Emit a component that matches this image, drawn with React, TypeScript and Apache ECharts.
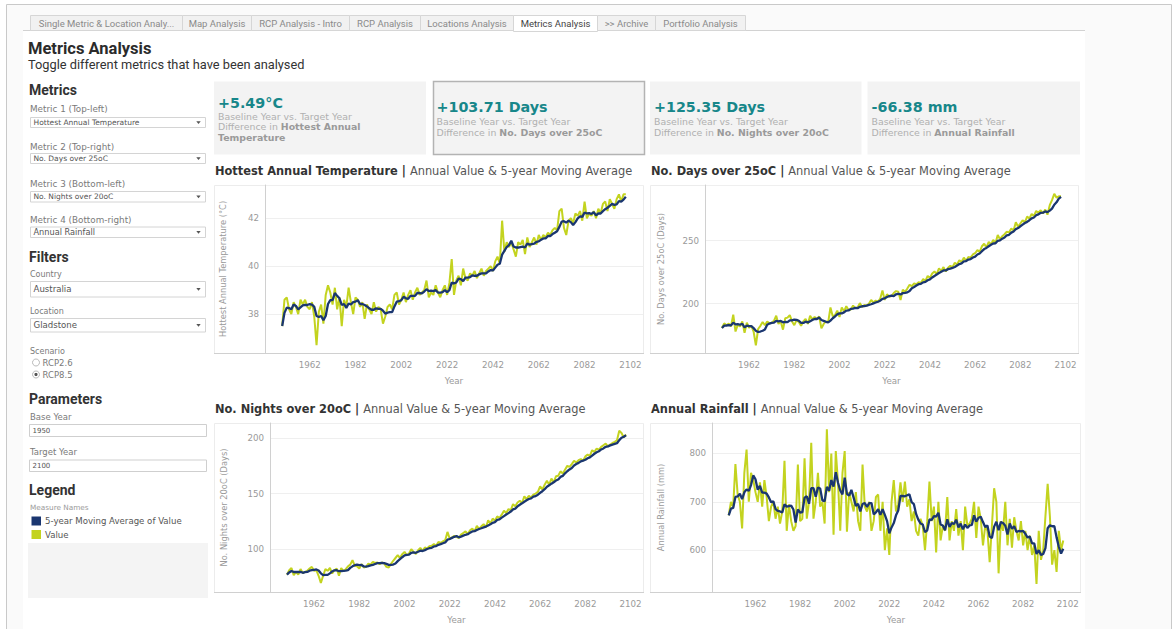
import React, { useEffect, useRef } from 'react';
import * as echarts from 'echarts';

// ---------------- DATA ----------------
const START_YEAR = 1950;
const xTickYears = [1962, 1982, 2002, 2022, 2042, 2062, 2082, 2102];

// Hottest Annual Temperature (°C), 1950-2100
const hottestTemp = [
  37.5, 38.6, 38.7, 38.2, 38.0, 38.5, 38.3, 38.0, 38.6, 38.4,
  38.6, 38.3, 38.2, 38.5, 37.9, 36.7, 38.1, 38.4, 37.6, 38.8,
  39.2, 38.9, 38.4, 39.1, 38.2, 38.7, 37.5, 38.6, 38.3, 39.1,
  38.5, 38.0, 38.7, 38.6, 38.3, 38.5, 37.8, 38.4, 38.2, 38.0,
  38.5, 38.1, 38.3, 38.2, 37.6, 37.9, 38.3, 38.4, 38.2, 38.8,
  38.9, 38.4, 38.6, 38.9, 38.5, 38.8, 39.0, 38.6, 38.9, 39.1,
  38.8, 38.9, 39.0, 39.4, 38.7, 38.9, 38.8, 39.2, 38.9, 38.7,
  39.0, 39.2, 38.8, 39.3, 40.3, 38.8, 39.4, 39.6, 39.2, 39.9,
  39.5, 39.4, 39.7, 39.6, 39.8, 39.5, 39.7, 39.9, 39.6, 39.8,
  39.9, 40.0, 39.8, 40.2, 40.4, 40.1, 41.9, 40.6, 41.0, 40.8,
  41.0, 40.7, 40.4, 41.0, 40.9, 41.1, 40.5, 41.2, 40.8, 41.0,
  41.2, 40.9, 41.3, 41.1, 41.3, 41.2, 41.4, 41.3, 41.5, 41.6,
  41.5, 42.3, 42.4, 41.6, 41.3, 41.9, 42.0, 41.8, 42.2, 42.1,
  42.3, 41.9, 42.7, 42.0, 42.2, 42.1, 42.3, 42.0, 42.4, 42.2,
  42.6, 42.7, 42.3, 42.8, 42.6, 42.4, 42.8, 43.0, 42.7, 43.0,
  43.0,
];

// No. Days over 25oC (Days)
const daysOver25 = [
  180.8, 184.5, 183.0, 184.2, 182.0, 191.3, 178.0, 183.5, 182.0, 186.0,
  177.0, 185.0, 181.0, 182.5, 178.0, 167.0, 180.0, 182.5, 185.5, 183.0,
  186.0, 184.5, 185.0, 186.5, 190.5, 184.0, 186.0, 179.5, 188.5, 189.0,
  191.0, 186.0, 183.0, 187.0, 185.5, 182.5, 186.0, 188.0, 184.0, 190.5,
  187.5, 189.5, 188.0, 190.0, 180.5, 184.0, 186.0, 185.5, 197.0, 190.0,
  191.0, 194.5, 189.5, 197.0, 194.0, 198.0, 195.0, 195.5, 198.5, 196.5,
  197.0, 200.5, 197.5, 199.0, 198.5, 200.0, 203.0, 201.0, 202.5, 201.5,
  204.0, 210.5, 203.0, 207.5, 205.5, 206.0, 208.5, 210.0, 209.5, 203.0,
  211.0, 209.5, 212.0, 215.0, 214.0, 216.0, 215.5, 217.0, 216.5, 219.5,
  218.0, 222.0, 220.5, 224.0, 225.5, 223.5, 228.0, 226.0, 229.0, 225.5,
  228.5, 230.0, 229.0, 232.5, 231.0, 234.5, 233.0, 236.5, 234.0, 237.0,
  236.5, 239.0, 240.0, 242.5, 241.0, 245.5, 247.5, 244.5, 249.0, 247.0,
  250.5, 248.0, 254.5, 251.0, 253.5, 255.0, 257.0, 256.5, 259.5, 258.0,
  264.5, 261.0, 263.5, 266.0, 264.5, 269.0, 267.5, 271.0, 269.5, 273.5,
  272.0, 274.0, 271.5, 274.5, 270.5, 278.0, 282.0, 287.0, 284.0, 285.0,
  285.0,
];

// No. Nights over 20oC (Days)
const nightsOver20 = [
  77.0, 81.0, 83.0, 76.5, 79.5, 77.0, 82.0, 78.5, 79.5, 80.5,
  82.5, 84.0, 80.5, 81.0, 76.0, 69.5, 76.0, 82.0, 80.5, 83.0,
  78.0, 81.0, 82.5, 76.0, 83.0, 80.0, 82.0, 84.5, 86.0, 90.0,
  85.0, 84.5, 82.5, 86.5, 83.5, 84.0, 87.0, 86.0, 88.5, 87.5,
  88.0, 86.5, 88.0, 87.0, 84.0, 83.5, 86.5, 89.5, 92.0, 94.5,
  92.0, 95.5, 97.5, 94.5, 96.0, 100.0, 97.5, 95.5, 99.0, 101.0,
  98.5, 101.5, 100.5, 102.5, 103.0, 104.5, 103.0, 106.5, 105.5, 107.0,
  108.0, 115.5, 109.5, 110.5, 112.0, 111.0, 110.0, 113.0, 114.5, 116.0,
  113.5, 117.0, 118.5, 116.0, 121.0, 118.0, 120.5, 122.5, 119.5, 126.0,
  123.0, 127.5, 125.5, 129.5, 128.0, 131.0, 134.5, 132.5, 136.0, 135.0,
  140.5, 138.5, 142.0, 143.5, 141.5, 147.5, 145.0, 148.0, 146.5, 149.0,
  150.0, 151.5, 156.5, 153.5, 158.0, 161.5, 158.0, 163.5, 160.0, 165.5,
  166.0, 170.0, 168.0, 171.5, 175.0, 174.0, 176.5, 179.5, 178.0, 180.0,
  181.0, 179.5, 183.5, 185.0, 184.0, 189.0, 187.5, 190.5, 189.5, 192.0,
  193.5, 195.0, 192.5, 194.0, 195.5, 196.5, 198.0, 206.5, 204.5, 200.5,
  203.0,
];

// Annual Rainfall (mm)
const annualRainfall = [
  672, 700, 690, 778, 715, 700, 645, 760, 808, 700,
  760, 745, 720, 700, 740, 690, 745, 710, 660, 690,
  700, 665, 690, 655, 680, 785, 640, 695, 660, 640,
  650, 777, 660, 665, 790, 665, 700, 822, 665, 700,
  760, 690, 700, 655, 850, 720, 800, 632, 805, 740,
  640, 760, 805, 638, 720, 700, 680, 720, 660, 640,
  777, 690, 680, 700, 640, 660, 710, 715, 640, 700,
  600, 645, 590, 700, 745, 680, 695, 740, 700, 742,
  690, 705, 660, 680, 640, 630, 665, 650, 600, 660,
  742, 660, 690, 595, 700, 620, 650, 640, 710, 620,
  660, 640, 685, 630, 660, 600, 690, 650, 655, 665,
  700, 625, 690, 665, 610, 650, 640, 575, 650, 728,
  700, 552, 660, 640, 700, 610, 665, 605, 668, 640,
  620, 660, 610, 640, 600, 630, 590, 610, 530, 640,
  580, 600, 670, 737, 670, 570, 600, 555, 640, 600,
  620,
];

// ---------------- HELPERS ----------------
const FONT = "'DejaVu Sans', Verdana, sans-serif";
const HFONT = "Roboto, 'Open Sans', sans-serif";
const VALUE_COLOR = '#c3d31f';
const MA_COLOR = '#1a3670';

const toPairs = (vals: number[]) => vals.map((v, i) => [START_YEAR + i, v]);
// 5-year (trailing) moving average of the value series
const movingAvg = (vals: number[]) =>
  vals.map((_, i) => {
    const s = vals.slice(Math.max(0, i - 4), i + 1);
    return +(s.reduce((a, b) => a + b, 0) / s.length).toFixed(2);
  });

const txt = (x: number, y: number, text: string, size: number, color: string, o: any = {}) => ({
  type: 'text', x, y, z: 20, silent: true,
  style: {
    text, fontSize: size, fontFamily: o.family || FONT, fontWeight: o.weight || 'normal',
    fill: color, align: o.align || 'left', verticalAlign: 'middle',
  },
});
const richTxt = (x: number, y: number, text: string, rich: any) => ({
  type: 'text', x, y, z: 20, silent: true,
  style: { text, rich, verticalAlign: 'middle', align: 'left' },
});
const box = (x: number, y: number, w: number, h: number, fill: string, stroke?: string, lw = 1, z = 1) => ({
  type: 'rect', z, silent: true,
  shape: { x, y, width: w, height: h },
  style: { fill, stroke: stroke || 'none', lineWidth: lw },
});
const hline = (x1: number, x2: number, y: number, color: string, z = 5) => ({
  type: 'line', z, silent: true, shape: { x1, y1: y, x2, y2: y }, style: { stroke: color, lineWidth: 1 },
});

// ---------------- LAYOUT ----------------
const charts = [
  { title: 'Hottest Annual Temperature', yName: 'Hottest Annual Temperature (°C)', data: hottestTemp,
    grid: { left: 265, top: 185, width: 378, height: 168 }, yMin: 36.375, yMax: 43.39, nameGap: 38,
    paneLeft: 214, titleX: 215, titleY: 171 },
  { title: 'No. Days over 25oC', yName: 'No. Days over 25oC (Days)', data: daysOver25,
    grid: { left: 705, top: 185, width: 373, height: 168 }, yMin: 161, yMax: 294, nameGap: 40,
    paneLeft: 650, titleX: 651, titleY: 171 },
  { title: 'No. Nights over 20oC', yName: 'No. Nights over 20oC (Days)', data: nightsOver20,
    grid: { left: 270, top: 423, width: 373, height: 169 }, yMin: 61.4, yMax: 213.5, nameGap: 42,
    paneLeft: 214, titleX: 215, titleY: 409 },
  { title: 'Annual Rainfall', yName: 'Annual Rainfall (mm)', data: annualRainfall,
    grid: { left: 712, top: 423, width: 368, height: 169 }, yMin: 513.4, yMax: 863, nameGap: 47,
    paneLeft: 650, titleX: 651, titleY: 409 },
];

const tabs = [
  { label: 'Single Metric & Location Analy...', x0: 30, x1: 182 },
  { label: 'Map Analysis', x0: 182, x1: 251 },
  { label: 'RCP Analysis - Intro', x0: 251, x1: 349 },
  { label: 'RCP Analysis', x0: 349, x1: 420 },
  { label: 'Locations Analysis', x0: 420, x1: 513 },
  { label: 'Metrics Analysis', x0: 513, x1: 597, active: true },
  { label: '>> Archive', x0: 597, x1: 655 },
  { label: 'Portfolio Analysis', x0: 655, x1: 745 },
];

const kpis = [
  { value: '+5.49°C', metric: ['Hottest Annual', 'Temperature'], x: 214, w: 212, tx: 218, vy: 102.5, l1: 116, l2: 126.5, l3: 137.5 },
  { value: '+103.71 Days', metric: ['No. Days over 25oC'], x: 433.5, w: 211, tx: 436.5, vy: 106.5, l1: 121, l2: 132, selected: true },
  { value: '+125.35 Days', metric: ['No. Nights over 20oC'], x: 650, w: 211.5, tx: 654, vy: 106.5, l1: 121, l2: 132 },
  { value: '-66.38 mm', metric: ['Annual Rainfall'], x: 867.5, w: 212.5, tx: 871.5, vy: 106.5, l1: 121, l2: 132 },
];

function buildGraphics() {
  const g: any[] = [];
  // page frame & panels
  g.push(box(6.5, 4.5, 1165, 700, '#fafafa', '#c9c9c9', 1, -20));
  g.push(box(23, 31, 1062, 640, '#ffffff', undefined, 1, -19));
  g.push(hline(23, 1085, 30.5, '#d2d2d2', 2));
  // tabs
  tabs.forEach((t) => {
    g.push(box(t.x0 + 0.5, 15.5, t.x1 - t.x0, t.active ? 16 : 15, t.active ? '#ffffff' : '#f1f1f1', '#d6d6d6', 1, 3));
    if (t.active) g.push(hline(t.x0 + 1, t.x1, 30.5, '#ffffff', 4));
    g.push(txt((t.x0 + t.x1) / 2 + 0.5, 23.5, t.label, 9.5, t.active ? '#444444' : '#8a8a8a', { family: HFONT, align: 'center' }));
  });
  // header
  g.push(txt(28, 48, 'Metrics Analysis', 16.5, '#2b2b2b', { family: HFONT, weight: 'bold' }));
  g.push(txt(28, 64.5, 'Toggle different metrics that have been analysed', 12.8, '#333333', { family: HFONT }));

  // left panel
  const label = (y: number, t: string, s = 8.8) => g.push(txt(30, y, t, s, '#7a7a7a'));
  const head = (y: number, t: string) => g.push(txt(29, y, t, 14, '#333333', { family: HFONT, weight: 'bold' }));
  const dropdown = (y: number, h: number, t: string, s: number) => {
    g.push(box(30.5, y + 0.5, 175, h, '#ffffff', '#d4d4d4', 1, 2));
    g.push(txt(33.5, y + h / 2 + 0.5, t, s, '#555555'));
    const cx = 198.5, cy = y + h / 2 + 0.5;
    g.push({ type: 'polygon', z: 5, silent: true, shape: { points: [[cx - 2.2, cy - 1.2], [cx + 2.2, cy - 1.2], [cx, cy + 1.5]] }, style: { fill: '#555555' } });
  };
  head(90, 'Metrics');
  label(109, 'Metric 1 (Top-left)');
  dropdown(117, 10, 'Hottest Annual Temperature', 7.5);
  label(146.5, 'Metric 2 (Top-right)');
  dropdown(153, 10, 'No. Days over 25oC', 7.5);
  label(184, 'Metric 3 (Bottom-left)');
  dropdown(191, 10.5, 'No. Nights over 20oC', 7.5);
  label(220, 'Metric 4 (Bottom-right)');
  dropdown(226.5, 10.5, 'Annual Rainfall', 8.2);
  head(256.5, 'Filters');
  label(274, 'Country', 8);
  dropdown(281, 15.5, 'Australia', 8.6);
  label(311.5, 'Location', 8);
  dropdown(318, 13.5, 'Gladstone', 8.6);
  label(351.5, 'Scenario', 8);
  g.push({ type: 'circle', z: 5, silent: true, shape: { cx: 36, cy: 362.5, r: 3.5 }, style: { fill: '#ffffff', stroke: '#a8a8a8', lineWidth: 0.8 } });
  g.push(txt(42.5, 362.5, 'RCP2.6', 8.5, '#7a7a7a'));
  g.push({ type: 'circle', z: 5, silent: true, shape: { cx: 36, cy: 374.5, r: 3.5 }, style: { fill: '#ffffff', stroke: '#a8a8a8', lineWidth: 0.8 } });
  g.push({ type: 'circle', z: 6, silent: true, shape: { cx: 36, cy: 374.5, r: 1.6 }, style: { fill: '#555555' } });
  g.push(txt(42.5, 374.5, 'RCP8.5', 8.5, '#7a7a7a'));
  head(398.5, 'Parameters');
  label(416.5, 'Base Year', 8.5);
  g.push(box(29.5, 424.5, 177, 12, '#ffffff', '#cfcfcf', 1, 2));
  g.push(txt(32.5, 430.5, '1950', 7, '#555555'));
  label(452, 'Target Year', 8.5);
  g.push(box(29.5, 460, 177, 11.5, '#ffffff', '#cfcfcf', 1, 2));
  g.push(txt(32.5, 466, '2100', 7, '#555555'));
  head(490, 'Legend');
  g.push(txt(30, 507.5, 'Measure Names', 7.3, '#9a9a9a'));
  g.push(box(31.5, 516.5, 9.5, 9, MA_COLOR, undefined, 1, 5));
  g.push(txt(45, 521, '5-year Moving Average of Value', 8.6, '#555555'));
  g.push(box(31.5, 530, 9.5, 9, VALUE_COLOR, undefined, 1, 5));
  g.push(txt(45, 534.5, 'Value', 8.6, '#555555'));
  g.push(box(28, 543, 180, 55, '#f4f4f4', undefined, 1, 1));

  // KPI cards
  kpis.forEach((k) => {
    g.push(box(k.x, 81.5, k.w, 73, '#f3f3f3', k.selected ? '#b3b3b3' : undefined, 1.5, 1));
    g.push(txt(k.tx, k.vy, k.value, 14.3, '#17878a', { weight: 'bold' }));
    g.push(txt(k.tx, k.l1, 'Baseline Year vs. Target Year', 9.4, '#b0b0b0'));
    g.push(richTxt(k.tx, k.l2, `{n|Difference in }{b|${k.metric[0]}}`, {
      n: { fontSize: 9.4, fontFamily: FONT, fill: '#b0b0b0' },
      b: { fontSize: 9.4, fontFamily: FONT, fontWeight: 'bold', fill: '#9a9a9a' },
    }));
    if (k.metric[1]) g.push(txt(k.tx, k.l3 as number, k.metric[1], 9.4, '#9a9a9a', { weight: 'bold' }));
  });

  // chart titles, pane borders, x-axis lines
  charts.forEach((c) => {
    g.push(richTxt(c.titleX, c.titleY, `{b|${c.title} | }{n|Annual Value & 5-year Moving Average}`, {
      b: { fontSize: 11.4, fontFamily: FONT, fontWeight: 'bold', fill: '#333333' },
      n: { fontSize: 11.4, fontFamily: FONT, fill: '#555555' },
    }));
    const right = c.grid.left + c.grid.width;
    const bottom = c.grid.top + c.grid.height;
    g.push(box(c.paneLeft + 0.5, c.grid.top + 0.5, right - c.paneLeft, c.grid.height, 'none', '#ececec', 1, 0));
    g.push(hline(c.paneLeft, right + 1, bottom + 0.5, '#d0d0d0', 6));
  });
  return g;
}

function buildOption(): any {
  const axisText = { color: '#9a9a9a', fontSize: 8.7, fontFamily: FONT };
  return {
    animation: false,
    backgroundColor: '#ffffff',
    grid: charts.map((c) => ({ ...c.grid, containLabel: false })),
    xAxis: charts.map((c, i) => ({
      type: 'value', gridIndex: i, min: 1942.5, max: 2107.5,
      axisLine: { show: false }, axisTick: { show: false }, splitLine: { show: false },
      axisLabel: { ...axisText, margin: 7, customValues: xTickYears, formatter: (v: number) => String(v) },
      name: 'Year', nameLocation: 'middle', nameGap: 23,
      nameTextStyle: { ...axisText, fontSize: 8.7 },
    })),
    yAxis: charts.map((c, i) => ({
      type: 'value', gridIndex: i, min: c.yMin, max: c.yMax, splitNumber: 3,
      axisLine: { show: true, lineStyle: { color: '#d0d0d0', width: 1 } },
      axisTick: { show: false },
      splitLine: { show: true, lineStyle: { color: '#efefef', width: 1 } },
      axisLabel: { ...axisText, margin: 6, showMinLabel: false, showMaxLabel: false },
      name: c.yName, nameLocation: 'middle', nameGap: c.nameGap,
      nameTextStyle: { ...axisText, fontSize: 8.3 },
    })),
    series: charts.flatMap((c, i) => [
      {
        name: 'Value', type: 'line', xAxisIndex: i, yAxisIndex: i, data: toPairs(c.data),
        showSymbol: false, symbol: 'none', z: 3,
        lineStyle: { color: VALUE_COLOR, width: 2 }, itemStyle: { color: VALUE_COLOR },
      },
      {
        name: '5-year Moving Average of Value', type: 'line', xAxisIndex: i, yAxisIndex: i,
        data: toPairs(movingAvg(c.data)), showSymbol: false, symbol: 'none', z: 4,
        lineStyle: { color: MA_COLOR, width: 2.3 }, itemStyle: { color: MA_COLOR },
      },
    ]),
    graphic: { elements: buildGraphics() },
  };
}

export default function App() {
  const ref = useRef<HTMLDivElement>(null);
  useEffect(() => {
    const chart = echarts.init(ref.current!, null, { renderer: 'svg' });
    chart.setOption(buildOption());
    return () => chart.dispose();
  }, []);
  return <div ref={ref} style={{ position: 'fixed', left: 0, top: 0, width: 1173, height: 629 }} />;
}
